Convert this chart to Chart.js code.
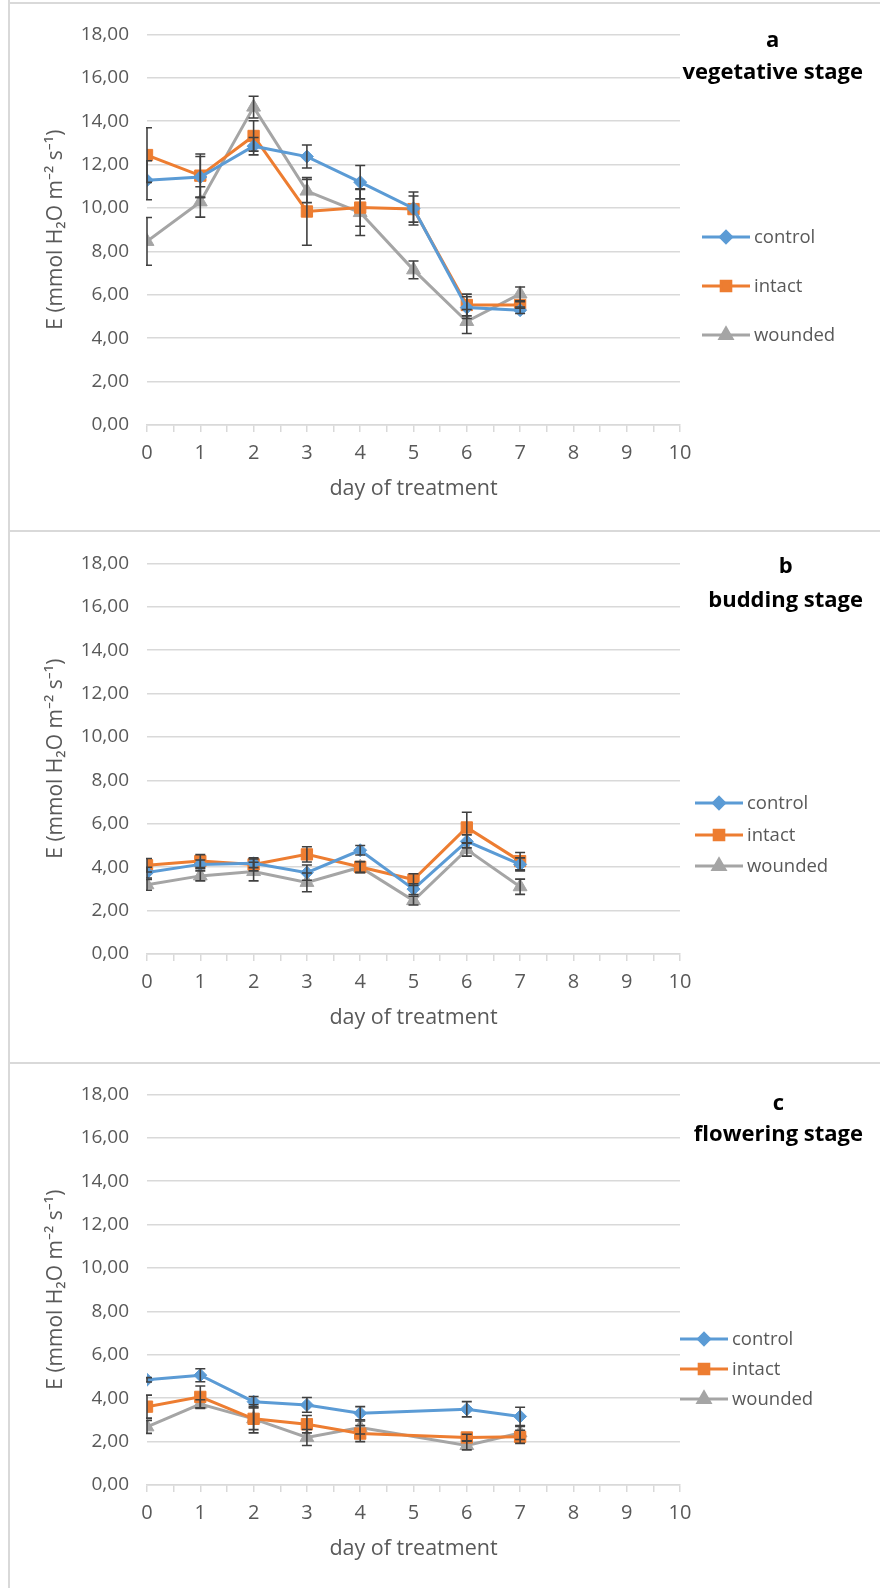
<!DOCTYPE html>
<html>
<head>
<meta charset="utf-8">
<script src="https://cdn.jsdelivr.net/npm/chart.js@4.4.1/dist/chart.umd.min.js"></script>
<style>
  html, body { margin: 0; padding: 0; background: #fff; overflow: hidden; }
  body { width: 880px; height: 1588px; position: relative; }
  .frame { position: absolute; background: #d9d9d9; }
  .panel { position: absolute; left: 10px; width: 870px; height: 525px; }
</style>
</head>
<body>
<div class="frame" style="left:8px; top:0; width:2px; height:1588px;"></div>
<div class="frame" style="left:8px; top:2px; width:872px; height:2px;"></div>
<div class="frame" style="left:8px; top:530px; width:872px; height:2px;"></div>
<div class="frame" style="left:8px; top:1062px; width:872px; height:2px;"></div>

<div class="panel" style="top:5px;"><canvas id="chartA" width="870" height="525"></canvas></div>
<div class="panel" style="top:534px;"><canvas id="chartB" width="870" height="525"></canvas></div>
<div class="panel" style="top:1065px;"><canvas id="chartC" width="870" height="525"></canvas></div>

<script>
// day of treatment
const days = [0, 1, 2, 3, 4, 5, 6, 7];
const seriesNames = ['control', 'intact', 'wounded'];
const yTicks = [0, 2, 4, 6, 8, 10, 12, 14, 16, 18];

// a - vegetative stage
const controlA = [11.28, 11.43, 12.85, 12.37, 11.19, 9.98, 5.41, 5.29];
const intactA = [12.44, 11.49, 13.32, 9.84, 10.02, 9.95, 5.53, 5.53];
const woundedA = [8.46, 10.28, 14.65, 10.78, 9.79, 7.15, 4.77, 6.04];
const controlAErr = [0.9, 0.94, 0.4, 0.53, 0.77, 0.76, 0.5, 0.15];
const intactAErr = [1.26, 1.0, 0.7, 1.56, 0.86, 0.6, 0.5, 0.15];
const woundedAErr = [1.1, 0.7, 0.5, 0.53, 1.06, 0.41, 0.55, 0.32];

// b - budding stage
const controlB = [3.75, 4.13, 4.18, 3.75, 4.78, 2.99, 5.19, 4.13];
const intactB = [4.09, 4.28, 4.13, 4.59, 4.01, 3.43, 5.83, 4.28];
const woundedB = [3.19, 3.6, 3.8, 3.3, 4.0, 2.46, 4.81, 3.1];
const controlBErr = [0.25, 0.2, 0.2, 0.35, 0.22, 0.25, 0.3, 0.3];
const intactBErr = [0.31, 0.3, 0.3, 0.35, 0.25, 0.27, 0.7, 0.4];
const woundedBErr = [0.25, 0.23, 0.43, 0.43, 0.25, 0.2, 0.3, 0.35];

// c - flowering stage (no measurement on day 5)
const controlC = [4.85, 5.06, 3.84, 3.69, 3.31, null, 3.49, 3.16];
const intactC = [3.61, 4.06, 3.05, 2.8, 2.37, null, 2.19, 2.22];
const woundedC = [2.68, 3.73, 3.05, 2.19, 2.65, null, 1.82, 2.4];
const controlCErr = [0.1, 0.3, 0.24, 0.34, 0.3, null, 0.35, 0.42];
const intactCErr = [0.53, 0.5, 0.5, 0.4, 0.37, null, 0.15, 0.3];
const woundedCErr = [0.3, 0.2, 0.65, 0.37, 0.3, null, 0.2, 0.3];

const colors = ['#5B9BD5', '#ED7D31', '#A5A5A5'];
const markers = ['rectRot', 'rect', 'triangle'];
const markerSize = [6.5, 8, 8];
const FONT = "'Open Sans', 'Noto Sans', sans-serif";

const errorBars = {
    id: 'errorBars',
    afterDatasetsDraw(chart) {
        const {ctx, chartArea, scales: {x, y}} = chart;
        ctx.save();
        ctx.beginPath();
        ctx.rect(chartArea.left - 1, chartArea.top - 20, chartArea.width + 2, chartArea.height + 40);
        ctx.clip();
        ctx.strokeStyle = '#404040';
        ctx.lineWidth = 1.6;
        chart.data.datasets.forEach(ds => {
            ds.data.forEach((p, i) => {
                const e = ds.errors[i];
                if (p.y == null || e == null) return;
                const px = x.getPixelForValue(p.x);
                const top = y.getPixelForValue(p.y + e);
                const bot = y.getPixelForValue(p.y - e);
                ctx.beginPath();
                ctx.moveTo(px, top); ctx.lineTo(px, bot);
                ctx.moveTo(px - 5, top); ctx.lineTo(px + 5, top);
                ctx.moveTo(px - 5, bot); ctx.lineTo(px + 5, bot);
                ctx.stroke();
            });
        });
        ctx.restore();
    }
};

const panelText = {
    id: 'panelText',
    afterDraw(chart, args, opts) {
        const ctx = chart.ctx;
        ctx.save();
        // panel letter and stage
        ctx.fillStyle = '#000';
        ctx.font = 'bold 22px ' + FONT;
        ctx.textBaseline = 'middle';
        ctx.textAlign = 'right';
        ctx.fillText(opts.stage, opts.textRight, opts.stageY);
        const w = ctx.measureText(opts.stage).width;
        ctx.textAlign = 'center';
        ctx.fillText(opts.letter, opts.textRight - w / 2, opts.letterY);
        // legend
        ctx.textAlign = 'left';
        ctx.font = '18.5px ' + FONT;
        chart.data.datasets.forEach((ds, i) => {
            const ly = opts.legendY[i];
            ctx.strokeStyle = ds.borderColor;
            ctx.lineWidth = 3;
            ctx.beginPath();
            ctx.moveTo(opts.legendX, ly);
            ctx.lineTo(opts.legendX + 48, ly);
            ctx.stroke();
            ctx.fillStyle = ds.borderColor;
            Chart.helpers.drawPoint(ctx, {pointStyle: ds.pointStyle, radius: ds.pointRadius * 0.85, borderWidth: 1, rotation: 0}, opts.legendX + 24, ly);
            ctx.fillStyle = '#595959';
            ctx.fillText(seriesNames[i], opts.legendX + 52, ly + 1);
        });
        ctx.restore();
    }
};

function makeChart(id, values, errors, text) {
    const datasets = values.map((vals, i) => ({
        label: seriesNames[i],
        data: days.map((d, j) => ({x: d, y: vals[j]})),
        errors: errors[i],
        borderColor: colors[i],
        backgroundColor: colors[i],
        borderWidth: 3,
        pointStyle: markers[i],
        pointRadius: markerSize[i],
        pointBorderWidth: 1,
        pointBackgroundColor: colors[i],
        pointBorderColor: colors[i],
        spanGaps: true,
        tension: 0
    }));
    return new Chart(document.getElementById(id), {
        type: 'line',
        data: {datasets},
        plugins: [errorBars, panelText],
        options: {
            responsive: false,
            animation: false,
            layout: {padding: {top: 25, right: 200, left: 0, bottom: 0}},
            plugins: {
                legend: {display: false},
                tooltip: {enabled: false},
                panelText: text
            },
            scales: {
                x: {
                    type: 'linear',
                    min: 0,
                    max: 10,
                    afterFit: s => { s.height = 105; },
                    afterBuildTicks: s => {
                        s.ticks = [];
                        for (let v = 0; v <= 20; v++) s.ticks.push({value: v / 2});
                    },
                    ticks: {
                        autoSkip: false,
                        maxRotation: 0,
                        padding: 9,
                        color: '#595959',
                        font: {family: FONT, size: 20},
                        callback: v => Number.isInteger(v) ? String(v) : ''
                    },
                    grid: {drawOnChartArea: false, drawTicks: true, tickLength: 7, color: '#d9d9d9', lineWidth: 1.5},
                    border: {display: true, color: '#d9d9d9', width: 1.5},
                    title: {
                        display: true,
                        text: 'day of treatment',
                        color: '#595959',
                        font: {family: FONT, size: 21.5},
                        padding: {top: 0, bottom: 28}
                    }
                },
                y: {
                    min: 0,
                    max: 18,
                    afterFit: s => { s.width = 137; },
                    afterBuildTicks: s => { s.ticks = yTicks.map(v => ({value: v})); },
                    ticks: {
                        padding: 18,
                        color: '#595959',
                        font: {family: FONT, size: 19},
                        callback: v => v.toFixed(2).replace('.', ',')
                    },
                    grid: {color: '#d9d9d9', lineWidth: 1.5, drawTicks: false},
                    border: {display: false},
                    title: {
                        display: true,
                        text: 'E (mmol H\u2082O m\u207B\u00B2 s\u207B\u00B9)',
                        color: '#595959',
                        font: {family: FONT, size: 21},
                        padding: {top: 33, bottom: 0}
                    }
                }
            }
        }
    });
}

makeChart('chartA', [controlA, intactA, woundedA], [controlAErr, intactAErr, woundedAErr],
    {letter: 'a', stage: 'vegetative stage', textRight: 853, letterY: 36, stageY: 68, legendX: 692, legendY: [232, 281, 330]});
makeChart('chartB', [controlB, intactB, woundedB], [controlBErr, intactBErr, woundedBErr],
    {letter: 'b', stage: 'budding stage', textRight: 853, letterY: 33, stageY: 67, legendX: 685, legendY: [269, 301, 332]});
makeChart('chartC', [controlC, intactC, woundedC], [controlCErr, intactCErr, woundedCErr],
    {letter: 'c', stage: 'flowering stage', textRight: 853, letterY: 39, stageY: 70, legendX: 670, legendY: [274, 304, 334]});
</script>
</body>
</html>
